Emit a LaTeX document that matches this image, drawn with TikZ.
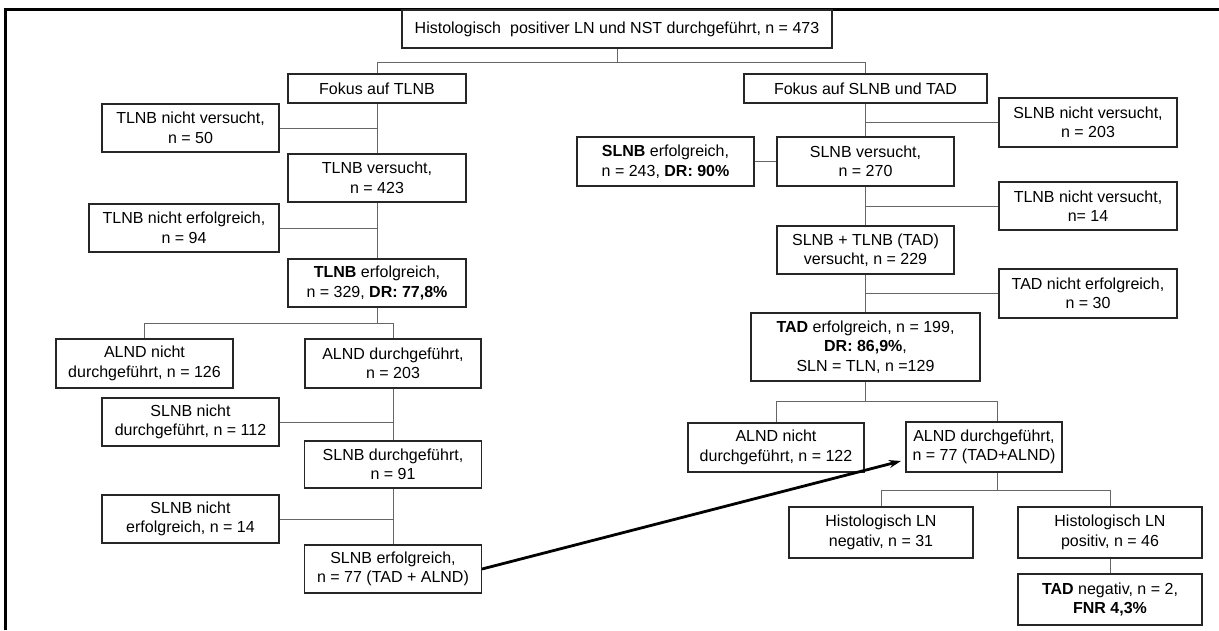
\documentclass[tikz,border=0pt]{standalone}
\usepackage{fontspec}
\setmainfont{Liberation Sans}
\usetikzlibrary{arrows.meta,calc}
\begin{document}
\begin{tikzpicture}[x=1pt,y=-1pt,
  box/.style={draw=black!85, line width=1.1pt, fill=white, inner sep=0pt, align=center,
    font=\fontsize{16}{19.5}\selectfont},
  conn/.style={draw=black!60, line width=0.9pt},
  frameline/.style={draw=black, line width=2.2pt},
  bigarrow/.style={draw=black, line width=2.8pt, -{Stealth[length=12pt,width=8pt]}}]
\useasboundingbox (0,0) rectangle (1219,630);
% frame
\coordinate (fa) at (5.5,630);
\coordinate (fb) at (5.5,9.5);
\coordinate (fc) at (1219,9.5);
\draw[frameline] (fa) -- (fb) -- (fc);
% top
\node[box, minimum width=430, minimum height=38] (top) at (617,29) {Histologisch\hspace{0.3em} positiver LN und NST durchgeführt, n = 473};
% left column
\node[box, minimum width=178, minimum height=29] (fl) at (377,88.5) {Fokus auf TLNB};
\node[box, minimum width=177, minimum height=48] (l1) at (190.5,128) {TLNB nicht versucht,\\ n = 50};
\node[box, minimum width=178, minimum height=48] (l2) at (377,178) {TLNB versucht,\\ n = 423};
\node[box, minimum width=190, minimum height=48] (l3) at (184,228) {TLNB nicht erfolgreich,\\ n = 94};
\node[box, minimum width=178, minimum height=48] (l4) at (377,283) {\textbf{TLNB} erfolgreich,\\ n = 329, \textbf{DR: 77,8\%}};
\node[box, minimum width=177, minimum height=49] (l5) at (144.5,363.5) {ALND nicht\\ durchgeführt, n = 126};
\node[box, minimum width=176, minimum height=49] (l6) at (393,363.5) {ALND durchgeführt,\\ n = 203};
\node[box, minimum width=177, minimum height=48] (l7) at (190.5,422) {SLNB nicht\\ durchgeführt, n = 112};
\node[box, minimum width=177, minimum height=47] (l8) at (393,464.5) {SLNB durchgeführt,\\ n = 91};
\node[box, minimum width=177, minimum height=48] (l9) at (190.5,519) {SLNB nicht\\ erfolgreich, n = 14};
\node[box, minimum width=177, minimum height=48] (l10) at (393,569) {SLNB erfolgreich,\\ n = 77 (TAD + ALND)};
% right column
\node[box, minimum width=243, minimum height=29] (fr) at (865.5,88.5) {Fokus auf SLNB und TAD};
\node[box, minimum width=178, minimum height=49] (r1) at (1088,122.5) {SLNB nicht versucht,\\ n = 203};
\node[box, minimum width=177, minimum height=49] (r2) at (865.5,161.5) {SLNB versucht,\\ n = 270};
\node[box, minimum width=177, minimum height=49] (r3) at (665.5,161.5) {\textbf{SLNB} erfolgreich,\\ n = 243, \textbf{DR: 90\%}};
\node[box, minimum width=178, minimum height=48] (r4) at (1088,206) {TLNB nicht versucht,\\ n= 14};
\node[box, minimum width=177, minimum height=48] (r5) at (865.5,250) {SLNB + TLNB (TAD)\\ versucht, n = 229};
\node[box, minimum width=178, minimum height=49] (r6) at (1088,293.5) {TAD nicht erfolgreich,\\ n = 30};
\node[box, minimum width=229, minimum height=68] (r7) at (865.5,347) {\textbf{TAD} erfolgreich, n = 199,\\ \textbf{DR: 86,9\%},\\ SLN = TLN, n =129};
\node[box, minimum width=176, minimum height=49] (r8) at (776,447.5) {ALND nicht\\ durchgeführt, n = 122};
\node[box, minimum width=156, minimum height=50] (r9) at (984,447) {ALND durchgeführt,\\ n = 77 (TAD+ALND)};
\node[box, minimum width=184, minimum height=51] (r10) at (881,532.5) {Histologisch LN\\ negativ, n = 31};
\node[box, minimum width=184, minimum height=51] (r11) at (1110,532.5) {Histologisch LN\\ positiv, n = 46};
\node[box, minimum width=184, minimum height=51] (r12) at (1110,599.5) {\textbf{TAD} negativ, n = 2,\\ \textbf{FNR 4,3\%}};
% junctions
\coordinate (j0) at (617,62);
\coordinate (j1) at (377,323);
\coordinate (j2) at (865.5,401);
\coordinate (j3) at (997,490);
\coordinate (r9in) at ([xshift=13pt]r9.north);
\coordinate (r9out) at ([xshift=13pt]r9.south);
\coordinate (arrend) at (901,461);
% connectors top
\draw[conn] (top.south) -- (j0);
\draw[conn] (j0) -| (fl.north);
\draw[conn] (j0) -| (fr.north);
% left
\draw[conn] (fl.south) -- (l2.north);
\draw[conn] (l2.south) -- (l4.north);
\draw[conn] (l1.east) -- (l1.east -| fl.south);
\draw[conn] (l3.east) -- (l3.east -| l2.south);
\draw[conn] (l4.south) -- (j1);
\draw[conn] (j1) -| (l5.north);
\draw[conn] (j1) -| (l6.north);
\draw[conn] (l6.south) -- (l8.north);
\draw[conn] (l8.south) -- (l10.north);
\draw[conn] (l7.east) -- (l7.east -| l6.south);
\draw[conn] (l9.east) -- (l9.east -| l8.south);
% right
\draw[conn] (fr.south) -- (r2.north);
\draw[conn] (r1.west) -- (r1.west -| fr.south);
\draw[conn] (r3.east) -- (r2.west);
\draw[conn] (r2.south) -- (r5.north);
\draw[conn] (r4.west) -- (r4.west -| r2.south);
\draw[conn] (r5.south) -- (r7.north);
\draw[conn] (r6.west) -- (r6.west -| r5.south);
\draw[conn] (r7.south) -- (j2);
\draw[conn] (j2) -| (r8.north);
\draw[conn] (j2) -| (r9in);
\draw[conn] (r9out) -- (j3);
\draw[conn] (j3) -| (r10.north);
\draw[conn] (j3) -| (r11.north);
\draw[conn] (r11.south) -- (r12.north);
% cross arrow
\draw[bigarrow] (l10.east) -- (arrend);
\end{tikzpicture}
\end{document}
